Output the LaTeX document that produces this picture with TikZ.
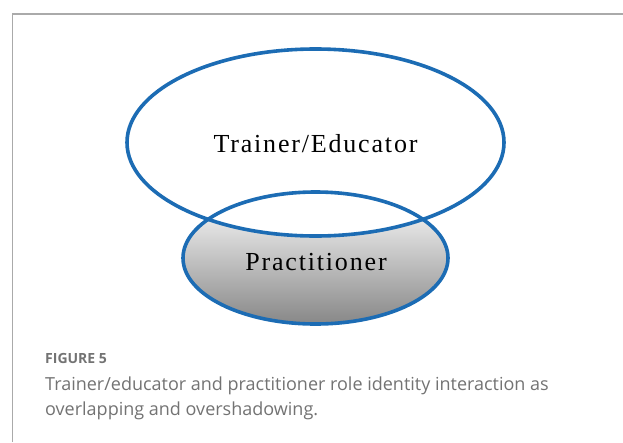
\documentclass[tikz,border=0pt]{standalone}
\usepackage{fontspec}
\setmainfont{Liberation Serif}
\newfontfamily\capfont{Open Sans}
\usetikzlibrary{shapes.geometric}
\definecolor{ringblue}{RGB}{28,108,180}
\definecolor{framegray}{RGB}{170,170,170}
\definecolor{capgray}{RGB}{115,115,115}
\tikzset{
  ring/.style={ellipse, inner sep=0pt, outer sep=0pt},
  ringline/.style={draw=ringblue, line width=3.6pt},
  bigtext/.style={anchor=base, inner sep=0pt, font=\fontsize{26}{30}\selectfont\addfontfeature{LetterSpace=7}},
  captext/.style={anchor=base west, inner sep=0pt, text=capgray, font=\capfont\fontsize{18}{21}\selectfont}
}
\begin{document}
\begin{tikzpicture}[x=1pt, y=-1pt]
\useasboundingbox (0,0) rectangle (623,442);
\fill[white] (0,0) rectangle (623,442);
% frame
\coordinate (fa) at (12.5,442);
\coordinate (fb) at (12.5,14);
\coordinate (fc) at (623,14);
\draw[framegray, line width=1.3pt] (fa) -- (fb) -- (fc);
% small ellipse (practitioner) shaded
\node[ring, minimum width=265pt, minimum height=132pt, top color=white, middle color=black!14, bottom color=black!47, shading angle=0] (p) at (315.5,258) {};
% big ellipse white fill overshadowing
\node[ring, minimum width=377pt, minimum height=187pt, fill=white] (t) at (315.5,142.5) {};
% outlines
\draw[ringline] (p.center) ellipse [x radius=132.5pt, y radius=66pt];
\draw[ringline] (t.center) ellipse [x radius=188.5pt, y radius=93.5pt];
% texts
\node[bigtext] (tt) at (315.5,152) {Trainer/Educator};
\node[bigtext] (pt) at (316,270) {Practitioner};
% caption
\node[captext, font=\capfont\bfseries\fontsize{14}{16}\selectfont] (fig) at (45,363) {FIGURE 5};
\node[captext] (c1) at (45,390) {Trainer/educator and practitioner role identity interaction as};
\node[captext] (c2) at (45,415) {overlapping and overshadowing.};
\end{tikzpicture}
\end{document}
